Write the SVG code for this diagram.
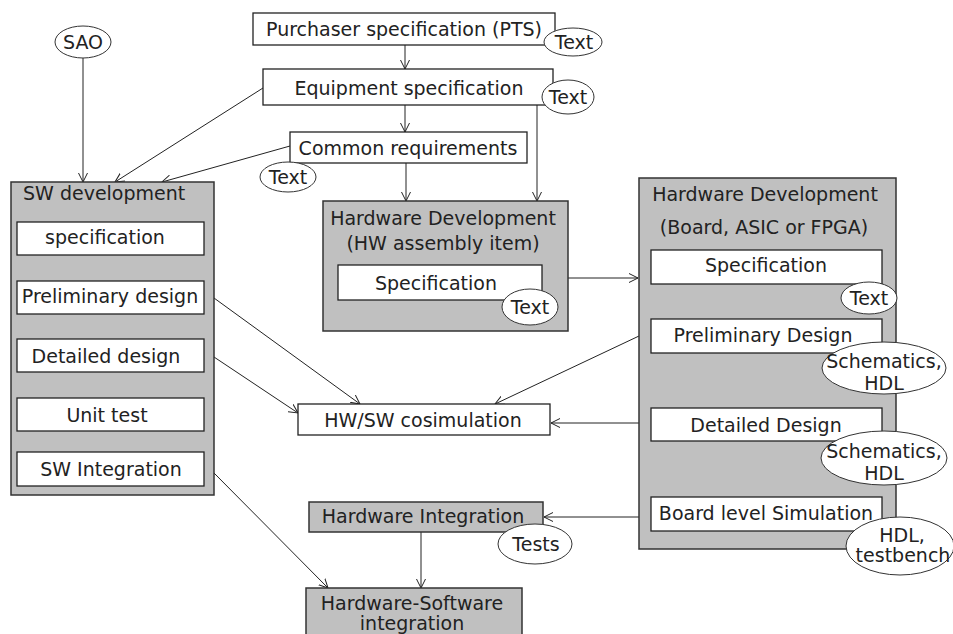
<svg xmlns="http://www.w3.org/2000/svg" width="953" height="634" viewBox="0 0 953 634">
<defs>
<marker id="arr" viewBox="0 0 10 10" refX="9" refY="5" markerWidth="10" markerHeight="10" markerUnits="userSpaceOnUse" orient="auto">
<path d="M0,0.5 L9,5 L0,9.5" fill="none" stroke="#222" stroke-width="1"/>
</marker>
</defs>
<style>
text{font-family:"DejaVu Sans",Verdana,sans-serif;font-size:19px;fill:#222}
.c{text-anchor:middle}
.box{fill:#fff;stroke:#222;stroke-width:1.3}
.grp{fill:#c0c0c0;stroke:#333;stroke-width:1.5}
.ell{fill:#fff;stroke:#333;stroke-width:1}
.ln{fill:none;stroke:#222;stroke-width:1;marker-end:url(#arr)}
.pl{fill:none;stroke:#222;stroke-width:1}
</style>
<rect width="953" height="634" fill="#fff"/>

<g id="connectors">
<line class="ln" x1="83" y1="58" x2="83" y2="182"/>
<line class="ln" x1="263" y1="88" x2="115" y2="182"/>
<line class="ln" x1="290" y1="146" x2="162" y2="182"/>
<line class="ln" x1="405" y1="45" x2="405" y2="69"/>
<line class="ln" x1="405" y1="105" x2="405" y2="132"/>
<line class="ln" x1="406" y1="163" x2="406" y2="201"/>
<line class="ln" x1="537" y1="105" x2="537" y2="201"/>
<line class="ln" x1="568" y1="278" x2="638" y2="278"/>
<line class="ln" x1="214" y1="298" x2="360" y2="404"/>
<line class="ln" x1="214" y1="357" x2="298" y2="413"/>
<line class="ln" x1="639" y1="336" x2="495" y2="404"/>
<line class="ln" x1="639" y1="423" x2="551" y2="423"/>
<line class="ln" x1="639" y1="517" x2="544" y2="517"/>
<line class="ln" x1="421" y1="532" x2="421" y2="588"/>
<line class="ln" x1="214" y1="473" x2="328" y2="588"/>
</g>

<g id="sao"><ellipse class="ell" cx="83" cy="42" rx="28" ry="16"/><text class="c" x="83" y="49">SAO</text></g>

<g id="purchaser"><rect class="box" x="253" y="13" width="302" height="32"/><text class="c" x="404" y="36">Purchaser specification (PTS)</text></g>
<g id="purchaser-text"><ellipse class="ell" cx="573" cy="42" rx="29" ry="14"/><text class="c" x="574" y="49">Text</text></g>

<g id="equipment"><rect class="box" x="263" y="69" width="290" height="36"/><text class="c" x="409" y="95">Equipment specification</text></g>
<g id="equipment-text"><ellipse class="ell" cx="568" cy="97" rx="26" ry="17"/><text class="c" x="568" y="104">Text</text></g>

<g id="common"><rect class="box" x="290" y="132" width="237" height="31"/><text class="c" x="408" y="155">Common requirements</text></g>
<g id="common-text"><ellipse class="ell" cx="288" cy="177" rx="28" ry="15"/><text class="c" x="288" y="184">Text</text></g>

<g id="sw-dev">
<rect class="grp" x="11" y="182" width="203" height="313"/>
<text x="23" y="200">SW development</text>
<rect class="box" x="17" y="222" width="187" height="33"/><text class="c" x="105" y="244">specification</text>
<rect class="box" x="17" y="281" width="187" height="33"/><text class="c" x="110" y="303">Preliminary design</text>
<rect class="box" x="17" y="339" width="187" height="33"/><text class="c" x="106" y="363">Detailed design</text>
<rect class="box" x="17" y="398" width="187" height="33"/><text class="c" x="107" y="422">Unit test</text>
<rect class="box" x="17" y="452" width="187" height="34"/><text class="c" x="111" y="476">SW Integration</text>
</g>

<g id="hw-assembly">
<rect class="grp" x="323" y="201" width="245" height="130"/>
<text class="c" x="443" y="225">Hardware Development</text>
<text class="c" x="443" y="250">(HW assembly item)</text>
<rect class="box" x="338" y="265" width="204" height="35"/><text class="c" x="436" y="290">Specification</text>
<ellipse class="ell" cx="530" cy="307" rx="28" ry="18"/><text class="c" x="530" y="314">Text</text>
</g>

<g id="hw-board">
<rect class="grp" x="639" y="178" width="257" height="371"/>
<text class="c" x="765" y="201">Hardware Development</text>
<text class="c" x="764" y="234">(Board, ASIC or FPGA)</text>
<rect class="box" x="651" y="250" width="231" height="34"/><text class="c" x="766" y="272">Specification</text>
<ellipse class="ell" cx="869" cy="298" rx="28" ry="16"/><text class="c" x="869" y="305">Text</text>
<rect class="box" x="651" y="319" width="231" height="34"/><text class="c" x="763" y="342">Preliminary Design</text>
<ellipse class="ell" cx="884" cy="368" rx="62" ry="26"/><text class="c" x="884" y="368">Schematics,</text><text class="c" x="884" y="390">HDL</text>
<rect class="box" x="651" y="408" width="231" height="33"/><text class="c" x="766" y="432">Detailed Design</text>
<ellipse class="ell" cx="884" cy="458" rx="63" ry="27"/><text class="c" x="884" y="458">Schematics,</text><text class="c" x="884" y="480">HDL</text>
<rect class="box" x="651" y="497" width="231" height="34"/><text class="c" x="766" y="520">Board level Simulation</text>
<ellipse class="ell" cx="900" cy="546" rx="54" ry="29"/><text class="c" x="902" y="542">HDL,</text><text class="c" x="903" y="562">testbench</text>
</g>

<g id="cosim"><rect class="box" x="298" y="404" width="252" height="31"/><text class="c" x="423" y="427">HW/SW cosimulation</text></g>

<g id="hw-integration">
<rect class="grp" x="309" y="502" width="234" height="30"/>
<text class="c" x="423" y="523">Hardware Integration</text>
</g>
<g id="tests"><ellipse class="ell" cx="535" cy="544" rx="37" ry="20"/><text class="c" x="536" y="551">Tests</text></g>

<g id="hw-sw-integration">
<rect class="grp" x="306" y="588" width="216" height="60"/>
<text class="c" x="412" y="610">Hardware-Software</text>
<text class="c" x="412" y="630">integration</text>
</g>
</svg>
